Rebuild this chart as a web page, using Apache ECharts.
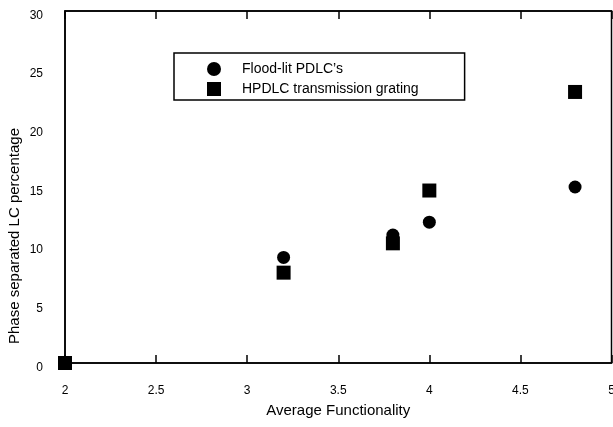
<!DOCTYPE html>
<html>
<head>
<meta charset="utf-8">
<script src="https://cdn.jsdelivr.net/npm/echarts@6/dist/echarts.min.js"></script>
<style>
  html, body { margin: 0; padding: 0; background: #fff; }
  #chart { width: 613px; height: 427px; }
</style>
</head>
<body>
<div id="chart"></div>
<script>
// Phase-separated LC percentage vs. average monomer functionality
const floodLitX = [3.2, 3.8, 4.0, 4.8];
const floodLitY = [9.0, 10.9, 12.0, 15.0];
const hpdlcX = [2.0, 3.2, 3.8, 4.0, 4.8];
const hpdlcY = [0, 7.7, 10.2, 14.7, 23.1];

const xTicks = [2, 2.5, 3, 3.5, 4, 4.5, 5];
const yTicks = [0, 5, 10, 15, 20, 25, 30];

const floodLitName = "Flood-lit PDLC\u2019s";
const hpdlcName = "HPDLC transmission grating";
const xTitle = 'Average Functionality';
const yTitle = 'Phase separated LC percentage';

const pairs = (xs, ys) => xs.map((x, i) => [x, ys[i]]);
const FONT = '"Liberation Sans", Arial, sans-serif';

const chart = echarts.init(document.getElementById('chart'), null, { renderer: 'canvas' });

chart.setOption({
  backgroundColor: '#ffffff',
  animation: false,
  grid: {
    left: 65, right: 1.5, top: 11, bottom: 64,
    outerBoundsMode: 'none', containLabel: false,
    show: true, borderColor: '#000', borderWidth: 1.5, backgroundColor: 'transparent'
  },
  // vertical axis title, set a little below the plot's middle
  graphic: [{
    type: 'text', x: 15, y: 236, rotation: Math.PI / 2,
    style: {
      text: yTitle, fontFamily: FONT, fontSize: 15, fill: '#000',
      textAlign: 'center', textVerticalAlign: 'middle'
    }
  }],
  legend: {
    orient: 'vertical',
    left: 174, top: 53,
    padding: [9, 46, 4, 33],
    itemGap: 6,
    itemWidth: 14, itemHeight: 14,
    borderColor: '#000', borderWidth: 1.5,
    itemStyle: { opacity: 1 },
    textStyle: { fontFamily: FONT, fontSize: 14, color: '#000', padding: [2, 0, 0, 16] },
    data: [
      { name: floodLitName, icon: 'circle' },
      { name: hpdlcName, icon: 'rect' }
    ]
  },
  xAxis: [
    {
      type: 'value', min: xTicks[0], max: xTicks[xTicks.length - 1], interval: 0.5,
      name: xTitle, nameLocation: 'middle', nameGap: 40,
      nameTextStyle: { fontFamily: FONT, fontSize: 15, color: '#000' },
      axisLine: { lineStyle: { color: '#000', width: 1.5 } },
      axisTick: { inside: true, length: 8, lineStyle: { color: '#000', width: 1.5 } },
      axisLabel: { fontFamily: FONT, fontSize: 12, color: '#000', margin: 22 },
      splitLine: { show: false }
    },
    {
      type: 'value', position: 'top', min: xTicks[0], max: xTicks[xTicks.length - 1], interval: 0.5,
      axisLine: { lineStyle: { color: '#000', width: 1.5 } },
      axisTick: { inside: true, length: 8, lineStyle: { color: '#000', width: 1.5 } },
      axisLabel: { show: false },
      splitLine: { show: false }
    }
  ],
  yAxis: {
    type: 'value', min: yTicks[0], max: yTicks[yTicks.length - 1], interval: 5,
    axisLine: { show: true, lineStyle: { color: '#000', width: 1.5 } },
    axisTick: { show: false },
    axisLabel: {
      fontFamily: FONT, fontSize: 12, color: '#000', margin: 22,
      verticalAlign: 'top', lineHeight: 9
    },
    splitLine: { show: false }
  },
  series: [
    {
      name: floodLitName, type: 'scatter', symbol: 'circle', symbolSize: 13,
      itemStyle: { color: '#000', opacity: 1 }, clip: false, z: 5,
      data: pairs(floodLitX, floodLitY)
    },
    {
      name: hpdlcName, type: 'scatter', symbol: 'rect', symbolSize: 14,
      itemStyle: { color: '#000', opacity: 1 }, clip: false, z: 4,
      data: pairs(hpdlcX, hpdlcY)
    }
  ]
});
</script>
</body>
</html>
